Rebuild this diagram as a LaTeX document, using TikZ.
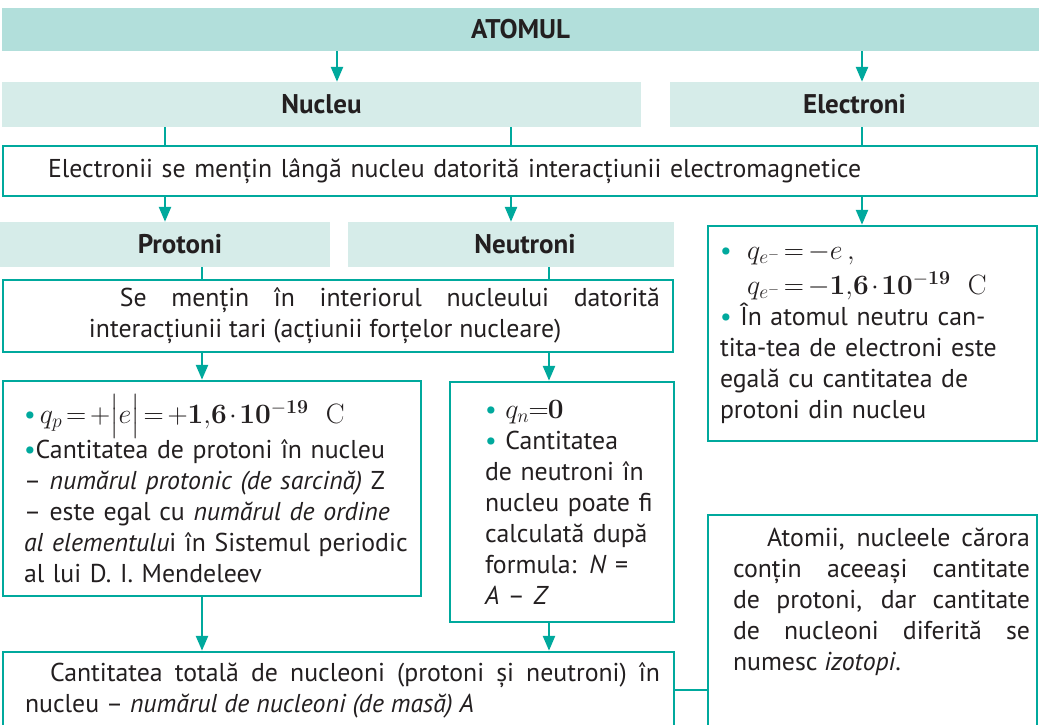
\RequirePackage{fix-cm}
\documentclass[tikz,border=0pt]{standalone}
\usepackage[no-math]{fontspec}
\setmainfont{PT Sans}
\usepackage{amsmath}
\usepackage{xcolor}
\usepackage{tikz}
\usetikzlibrary{arrows.meta,positioning}

\definecolor{tealline}{RGB}{0,169,157}
\definecolor{atomfill}{RGB}{178,223,219}
\definecolor{subfill}{RGB}{214,236,233}
\definecolor{inkgray}{RGB}{35,31,32}
\newcommand{\tbul}{{\color{tealline}•}}
\newcommand{\mbig}{\fontsize{28}{31}\selectfont}
\thickmuskip=2.5mu plus 1mu
\medmuskip=1.5mu

\begin{document}
\begin{tikzpicture}[x=1pt,y=-1pt,
txt/.style={text=inkgray, font=\fontsize{25.8}{31}\selectfont},
head/.style={txt, fill=atomfill, font=\fontsize{27}{30}\selectfont\bfseries, inner sep=0pt},
sub/.style={head, fill=subfill},
box/.style={txt, draw=tealline, line width=2.5pt, fill=white, inner ysep=0pt},
link/.style={draw=tealline, line width=2.5pt},
arr/.style={link, -{Triangle[length=15pt,width=12pt]}}
]
\useasboundingbox (0,0) rectangle (1039,725);
\node[head, minimum width=1037pt, minimum height=43pt] (atom) at (520.5,29.5) {ATOMUL};
\node[sub, minimum width=639pt, minimum height=45pt] (nucleu) at (321.5,104.5) {Nucleu};
\node[sub, minimum width=369pt, minimum height=45pt] (electroni) at (854.5,104.5) {Electroni};
\node[box, minimum width=1034pt, minimum height=50pt, inner xsep=45pt, text width=944pt, align=left] (bond) at (520,171) {Electronii se mențin lângă nucleu datorită interacțiunii electromagnetice};
\node[sub, minimum width=330pt, minimum height=45pt] (protoni) at (165,244.5) {\hspace*{30pt}Protoni};
\node[sub, minimum width=326pt, minimum height=45pt] (neutroni) at (511,244.5) {\hspace*{28pt}Neutroni};
\node[box, minimum width=329pt, minimum height=215pt, inner xsep=12pt, text width=305pt, align=left] (elbox) at (872.5,333.5) {\tbul\hspace{0.6em}{\mbig$q_{e^{-}}=-e\,,$}\\[4pt]
\hspace*{1.05em}{\mbig$q_{e^{-}}=-\mathbf{1{,}6\cdot 10^{-19}}\ \ \mathrm{C}$}\\
\tbul{} În atomul neutru can-\\
tita-tea de electroni este\\
egală cu cantitatea de\\
protoni din nucleu};
\node[box, minimum width=670pt, minimum height=72pt, inner xsep=13pt, text width=644pt, align=justify] (strong) at (338,316) {\leftskip=73pt\relax\hspace*{31pt}Se mențin în interiorul nucleului datorită\linebreak interacțiunii tari (acțiunii forțelor nucleare)\par};
\node[box, minimum width=418pt, minimum height=215pt, inner xsep=10.5pt, text width=397pt, align=left] (qp) at (212,488.5) {\leftskip=10.5pt\relax\tbul\,{\mbig$q_p=+\bigl|e\bigr|=+\mathbf{1{,}6\cdot 10^{-19}}\ \ \mathrm{C}$}\\
\tbul Cantitatea de protoni în nucleu\\
– \textit{numărul protonic (de sarcină)} Z\\
– este egal cu \textit{numărul de ordine}\\
\textit{al elementulu}i în Sistemul periodic\\
al lui D. I. Mendeleev\par};
\node[box, minimum width=224pt, minimum height=240pt, inner xsep=12pt, text width=200pt, align=left] (qn) at (562,502) {\leftskip=23pt\relax\tbul{} {\mbig$q_n\!=\!\mathbf{0}$}\\
\tbul{} Cantitatea\\
de neutroni în\\
nucleu poate fi\\
calculată după\\
formula: \textit{N} =\\
\textit{A} – \textit{Z}\par};
\node[box, minimum width=671pt, minimum height=76pt, inner xsep=14pt, text width=643pt, align=justify] (total) at (338.5,690) {\leftskip=8pt\relax\hspace*{25pt}Cantitatea totală de nucleoni (protoni și neutroni) în\linebreak nucleu – \textit{numărul de nucleoni (de masă) A}\par};
\node[box, minimum width=329pt, minimum height=265pt, inner xsep=7pt, text width=315pt, align=justify] (izo) at (872.5,647.5) {\leftskip=18pt\relax\hspace*{34pt}Atomii, nucleele cărora\linebreak conțin aceeași cantitate\linebreak de protoni, dar cantitate\linebreak de nucleoni diferită se\linebreak numesc \textit{izotopi}.\par\rule{0pt}{90pt}};
% connectors
\draw[arr] ([xshift=15.5pt]nucleu.north |- atom.south) -- ([xshift=15.5pt]nucleu.north);
\draw[arr] ([xshift=7.5pt]electroni.north |- atom.south) -- ([xshift=7.5pt]electroni.north);
\draw[link] (protoni |- nucleu.south) -- (protoni |- bond.north);
\draw[link] (neutroni |- nucleu.south) -- (neutroni |- bond.north);
\draw[link] ([xshift=7.5pt]electroni.south) -- ([xshift=7.5pt]electroni.south |- bond.north);
\draw[arr] (protoni |- bond.south) -- (protoni.north);
\draw[arr] (neutroni |- bond.south) -- (neutroni.north);
\draw[arr] ([xshift=-10.5pt]elbox.north |- bond.south) -- ([xshift=-10.5pt]elbox.north);
\draw[link] ([xshift=37pt]protoni.south) -- ([xshift=37pt]protoni.south |- strong.north);
\draw[link] ([xshift=38pt]neutroni.south) -- ([xshift=38pt]neutroni.south |- strong.north);
\draw[arr] ([xshift=-10pt]qp.north |- strong.south) -- ([xshift=-10pt]qp.north);
\draw[arr] ([xshift=-13pt]qn.north |- strong.south) -- ([xshift=-13pt]qn.north);
\draw[arr] ([xshift=-10pt]qp.south) -- ([xshift=-10pt]qp.south |- total.north);
\draw[arr] ([xshift=-13pt]qn.south) -- ([xshift=-13pt]qn.south |- total.north);
\draw[link] (total.east) -- (total.east -| izo.west);
\end{tikzpicture}
\end{document}
